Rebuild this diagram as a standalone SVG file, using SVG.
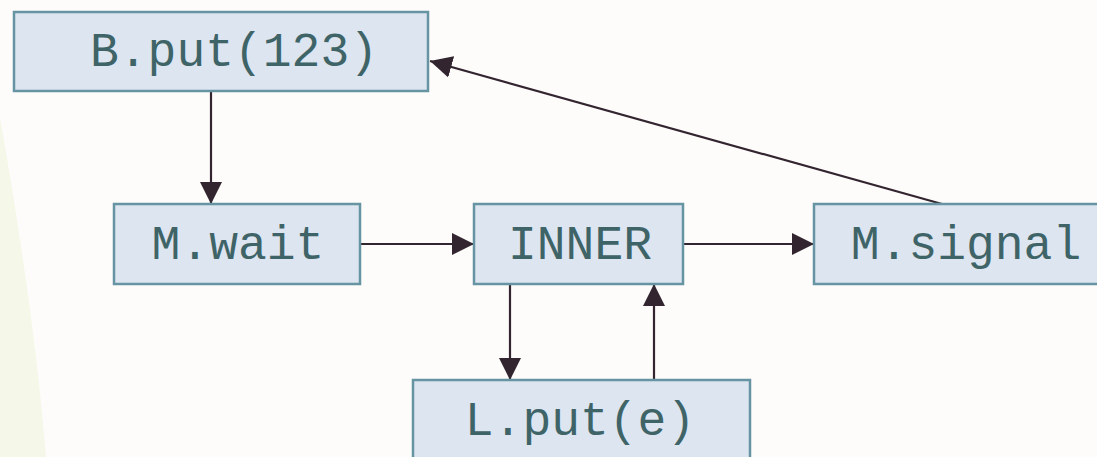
<svg xmlns="http://www.w3.org/2000/svg" width="1097" height="457" viewBox="0 0 1097 457">
  <style>
    .box rect { fill: #dde5f1; stroke: #6794a2; stroke-width: 2.5; }
    .box text { font-family: "Liberation Mono", "Courier New", monospace; font-size: 48px; fill: #3f6468; text-anchor: middle; }
    .edge { stroke: #33252f; stroke-width: 2.2; fill: none; marker-end: url(#head); }
  </style>
  <defs>
    <marker id="head" markerUnits="userSpaceOnUse" markerWidth="22" markerHeight="22" refX="22" refY="11" orient="auto">
      <path d="M0,0 L22,11 L0,22 Z" fill="#33252f"/>
    </marker>
  </defs>

  <!-- page background with the pale band on the left -->
  <rect x="0" y="0" width="1097" height="457" fill="#fdfcfa"/>
  <path d="M0,118 Q34,310 46,457 L0,457 Z" fill="#f5f7e9"/>

  <g id="connectors">
    <line class="edge" x1="211" y1="91" x2="211" y2="204"/>
    <line class="edge" x1="360" y1="244" x2="474" y2="244"/>
    <line class="edge" x1="683" y1="244" x2="814" y2="244"/>
    <line class="edge" x1="510" y1="284" x2="510" y2="380"/>
    <line class="edge" x1="654" y1="380" x2="654" y2="284"/>
    <line class="edge" x1="942" y1="204" x2="430" y2="61"/>
  </g>

  <g id="node-bput" class="box">
    <rect x="14" y="12" width="414" height="79"/>
    <text x="234" y="66">B.put(123)</text>
  </g>
  <g id="node-mwait" class="box">
    <rect x="114" y="204" width="246" height="80"/>
    <text x="238" y="259">M.wait</text>
  </g>
  <g id="node-inner" class="box">
    <rect x="474" y="204" width="209" height="80"/>
    <text x="580" y="259">INNER</text>
  </g>
  <g id="node-msignal" class="box">
    <rect x="814" y="204" width="300" height="80"/>
    <text x="966" y="259">M.signal</text>
  </g>
  <g id="node-lput" class="box">
    <rect x="413" y="380" width="337" height="90"/>
    <text x="580" y="435">L.put(e)</text>
  </g>
</svg>
